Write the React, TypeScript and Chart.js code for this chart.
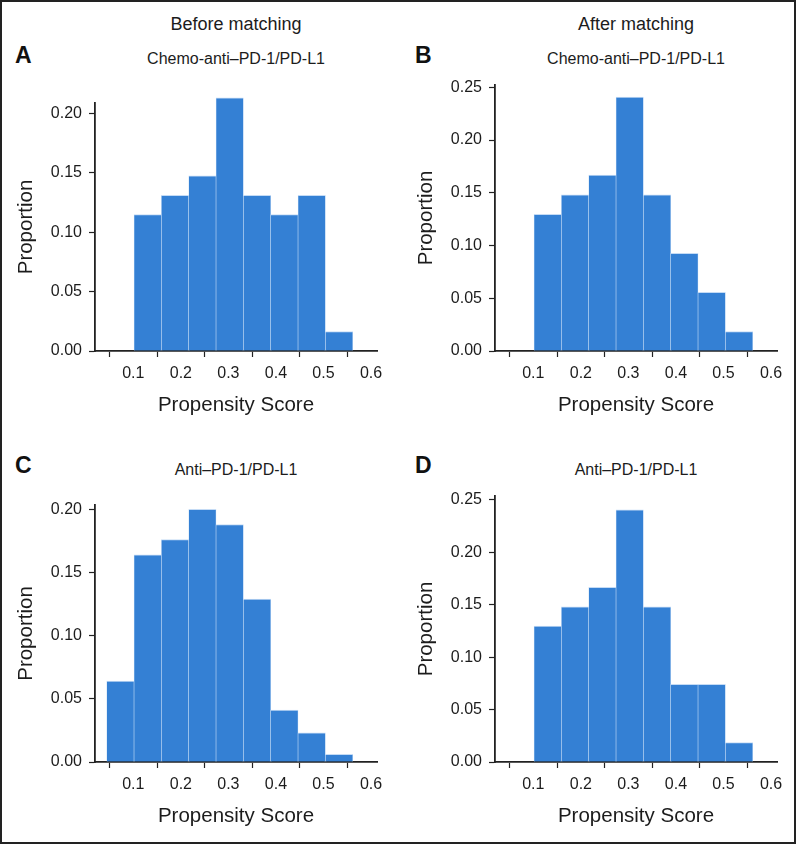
import React, { useEffect, useRef } from "react";
import { Chart, registerables } from "chart.js";
Chart.register(...registerables);

// Histogram bin centres (bin width ≈ 0.0575)
const binCenters = [0.0728, 0.1303, 0.1878, 0.2453, 0.3028, 0.3603, 0.4178, 0.4753, 0.5328];
// Proportions per bin (null = empty bin)
const beforeChemo = [null, 0.1148, 0.1311, 0.1475, 0.2131, 0.1311, 0.1148, 0.1311, 0.0164];
const afterChemo = [null, 0.1296, 0.1481, 0.1667, 0.2407, 0.1481, 0.0926, 0.0556, 0.0185];
const beforeAnti = [0.064, 0.164, 0.176, 0.2, 0.188, 0.129, 0.041, 0.023, 0.006];
const afterAnti = [null, 0.1296, 0.1481, 0.1667, 0.2407, 0.1481, 0.0741, 0.0741, 0.0185];

const xTicks = [0.1, 0.2, 0.3, 0.4, 0.5, 0.6];
const columnTitles = ["Before matching", "After matching"];
const groupTitles = ["Chemo-anti–PD-1/PD-L1", "Anti–PD-1/PD-L1"];

const FONT = '"Liberation Sans", Arial, Helvetica, sans-serif';
const TEXT = "#1c1c1c";
const X_MIN = 0.0194;
const X_MAX = 0.6126;
const Y_AXIS_W = 95;
const X_AXIS_H = 69;
const PAD_TOP = 23;
const PAD_RIGHT = 23;

type Rect = { left: number; right: number; top: number; bottom: number };

function Histogram({ rect, values, yMax }: { rect: Rect; values: (number | null)[]; yMax: number }) {
  const ref = useRef<HTMLCanvasElement | null>(null);
  const cLeft = rect.left - Y_AXIS_W;
  const cTop = rect.top - PAD_TOP;
  const cW = Math.round(rect.right + PAD_RIGHT - cLeft);
  const cH = Math.round(rect.bottom + X_AXIS_H - cTop);

  useEffect(() => {
    if (!ref.current) return;
    const data = binCenters.map((x, i) => ({ x, y: values[i] }));
    const chart = new Chart(ref.current, {
      type: "bar",
      data: {
        datasets: [
          {
            data: data as any,
            backgroundColor: "rgb(52,128,212)",
            borderColor: "#c4dbf5",
            borderWidth: { top: 1, left: 0.6, right: 0.6, bottom: 0 } as any,
            borderSkipped: "bottom",
            barPercentage: 1,
            categoryPercentage: 1,
            clip: false as any,
          },
        ],
      },
      options: {
        animation: false,
        responsive: false,
        devicePixelRatio: 1,
        layout: { padding: { top: PAD_TOP, right: PAD_RIGHT, left: 0, bottom: 0 } },
        plugins: { legend: { display: false }, tooltip: { enabled: false } },
        scales: {
          x: {
            type: "linear",
            min: X_MIN,
            max: X_MAX,
            offset: false,
            afterFit: (s: any) => {
              s.height = X_AXIS_H;
            },
            afterBuildTicks: (s: any) => {
              s.ticks = xTicks.map((v) => ({ value: v }));
            },
            ticks: {
              stepSize: 0.1,
              includeBounds: false,
              padding: 7,
              color: TEXT,
              font: { family: FONT, size: 16 },
              maxRotation: 0,
              callback: (v: any) => Number(v).toFixed(1),
            },
            grid: {
              display: true,
              drawOnChartArea: false,
              drawTicks: true,
              tickLength: 6,
              tickColor: "#222",
              tickWidth: 1.2,
            },
            border: { display: true, color: "#222", width: 1.8 },
            title: {
              display: true,
              text: "Propensity Score",
              color: TEXT,
              font: { family: FONT, size: 20.5 },
              padding: { top: 0, bottom: 2 },
            },
          },
          y: {
            type: "linear",
            min: 0,
            max: yMax,
            afterFit: (s: any) => {
              s.width = Y_AXIS_W;
            },
            ticks: {
              stepSize: 0.05,
              includeBounds: false,
              padding: 7,
              color: TEXT,
              font: { family: FONT, size: 16 },
              callback: (v: any) => Number(v).toFixed(2),
            },
            grid: {
              display: true,
              drawOnChartArea: false,
              drawTicks: true,
              tickLength: 6,
              tickColor: "#222",
              tickWidth: 1.2,
            },
            border: { display: true, color: "#222", width: 1.8 },
            title: {
              display: true,
              text: "Proportion",
              color: TEXT,
              font: { family: FONT, size: 20.5 },
              padding: { top: 14, bottom: 0 },
            },
          },
        },
      } as any,
    });
    return () => chart.destroy();
  }, []);

  return (
    <canvas
      ref={ref}
      width={cW}
      height={cH}
      style={{ position: "absolute", left: cLeft, top: cTop, width: cW, height: cH }}
    />
  );
}

function Label({ text, cx, cy, size, bold, left }: { text: string; cx?: number; cy: number; size: number; bold?: boolean; left?: number }) {
  const style: React.CSSProperties = {
    position: "absolute",
    top: cy,
    transform: cx !== undefined ? "translate(-50%, -50%)" : "translate(0, -50%)",
    fontFamily: FONT,
    fontSize: size,
    fontWeight: bold ? 700 : 400,
    color: bold ? "#111" : TEXT,
    whiteSpace: "nowrap",
    lineHeight: 1,
  };
  if (cx !== undefined) style.left = cx;
  else style.left = left;
  return <div style={style}>{text}</div>;
}

export default function App() {
  return (
    <div
      style={{
        position: "absolute",
        left: 0,
        top: 0,
        width: 796,
        height: 844,
        background: "#fff",
        boxSizing: "border-box",
        border: "2px solid #222",
        overflow: "hidden",
      }}
    >
      <div style={{ position: "absolute", left: -2, top: -2, width: 796, height: 844 }}>
        <Label text={columnTitles[0]} cx={236} cy={24} size={18} />
        <Label text={columnTitles[1]} cx={636} cy={24} size={18} />
        <Label text="A" left={15} cy={55} size={23} bold />
        <Label text="B" left={415} cy={55} size={23} bold />
        <Label text="C" left={15} cy={465} size={23} bold />
        <Label text="D" left={415} cy={465} size={23} bold />
        <Label text={groupTitles[0]} cx={236} cy={58.5} size={16} />
        <Label text={groupTitles[0]} cx={636} cy={58.5} size={16} />
        <Label text={groupTitles[1]} cx={236} cy={469.5} size={16} />
        <Label text={groupTitles[1]} cx={636} cy={469.5} size={16} />
        <Histogram rect={{ left: 95, right: 377, top: 103, bottom: 351 }} values={beforeChemo} yMax={0.2087} />
        <Histogram rect={{ left: 495, right: 777, top: 85, bottom: 351 }} values={afterChemo} yMax={0.2522} />
        <Histogram rect={{ left: 95, right: 377, top: 505, bottom: 762 }} values={beforeAnti} yMax={0.2034} />
        <Histogram rect={{ left: 495, right: 777, top: 496, bottom: 762 }} values={afterAnti} yMax={0.2538} />
      </div>
    </div>
  );
}
